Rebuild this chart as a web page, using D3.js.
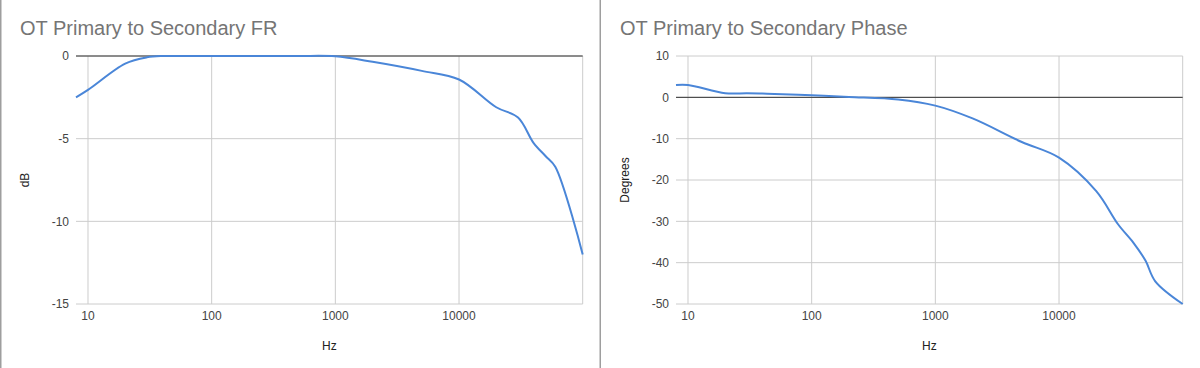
<!DOCTYPE html>
<html><head><meta charset="utf-8">
<script src="https://cdn.jsdelivr.net/npm/d3@7"></script>
<style>
html,body{margin:0;padding:0;background:#fff;}
svg{display:block;font-family:"Liberation Sans",Arial,sans-serif;}
</style></head>
<body>
<svg id="c" width="1200" height="368"></svg>
<script>
const freqs = [8, 10, 20, 30, 40, 50, 100, 200, 500, 1000, 2000, 5000, 10000, 20000, 30000, 40000, 50000, 60000, 100000];
const frDb = [-2.5, -2.05, -0.46, -0.08, 0, 0, 0, 0, 0, -0.02, -0.35, -0.9, -1.42, -3.1, -3.72, -5.25, -6.05, -6.7, -12];
const phaseDeg = [3, 3, 1, 1, 0.9, 0.8, 0.5, 0.1, -0.5, -2, -5.1, -10.8, -14.6, -22.7, -30.7, -35.2, -39.5, -44.5, -50];
const xTicks = [10, 100, 1000, 10000];
const frTicks = [0, -5, -10, -15];
const phaseTicks = [10, 0, -10, -20, -30, -40, -50];

const svg = d3.select("#c");
// panel borders
svg.append("rect").attr("x",0).attr("y",0).attr("width",1.5).attr("height",368).attr("fill","#9e9e9e");
svg.append("rect").attr("x",599.5).attr("y",0).attr("width",1.5).attr("height",368).attr("fill","#9e9e9e");

function panel(ox, title, yTitle, values, yDomain, yTicks) {
  const g = svg.append("g").attr("transform", `translate(${ox},0)`);
  const left = 76, right = 582.7, top = 56, bottom = 304;
  const x = d3.scaleLog().domain([8, 100000]).range([left, right]);
  const y = d3.scaleLinear().domain(yDomain).range([bottom, top]);

  g.append("text").attr("x", 20).attr("y", 35).attr("font-size", 20)
    .attr("fill", "#757575").text(title);

  // horizontal grid
  g.append("g").selectAll("line").data(yTicks).join("line")
    .attr("x1", left).attr("x2", right)
    .attr("y1", d => y(d)).attr("y2", d => y(d))
    .attr("stroke", "#cccccc").attr("stroke-width", 1);
  // vertical grid
  g.append("g").selectAll("line").data(xTicks.concat([100000])).join("line")
    .attr("x1", d => x(d)).attr("x2", d => x(d))
    .attr("y1", top).attr("y2", bottom)
    .attr("stroke", "#cccccc").attr("stroke-width", 1);
  // zero baseline
  g.append("line").attr("x1", left).attr("x2", right)
    .attr("y1", y(0)).attr("y2", y(0)).attr("stroke", "#333").attr("stroke-width", 1);

  // y tick labels
  g.append("g").selectAll("text").data(yTicks).join("text")
    .attr("x", 69).attr("y", d => y(d)).attr("dy", "0.35em")
    .attr("text-anchor", "end").attr("font-size", 12).attr("fill", "#444")
    .text(d => d);
  // x tick labels
  g.append("g").selectAll("text").data(xTicks).join("text")
    .attr("x", d => x(d)).attr("y", 320)
    .attr("text-anchor", "middle").attr("font-size", 12).attr("fill", "#444")
    .text(d => d);

  g.append("text").attr("x", (left + right) / 2).attr("y", 350)
    .attr("text-anchor", "middle").attr("font-size", 12).attr("fill", "#222").text("Hz");
  g.append("text").attr("transform", `translate(29,${(top+bottom)/2}) rotate(-90)`)
    .attr("text-anchor", "middle").attr("font-size", 12).attr("fill", "#222").text(yTitle);

  const line = d3.line().x((d, i) => x(freqs[i])).y(d => y(d)).curve(d3.curveCatmullRom.alpha(0.5));
  g.append("path").datum(values).attr("d", line)
    .attr("fill", "none").attr("stroke", "#4a86d8").attr("stroke-width", 2)
    .attr("stroke-linejoin", "round");
}

panel(0, "OT Primary to Secondary FR", "dB", frDb, [-15, 0], frTicks);
panel(600, "OT Primary to Secondary Phase", "Degrees", phaseDeg, [-50, 10], phaseTicks);
</script>
</body></html>
